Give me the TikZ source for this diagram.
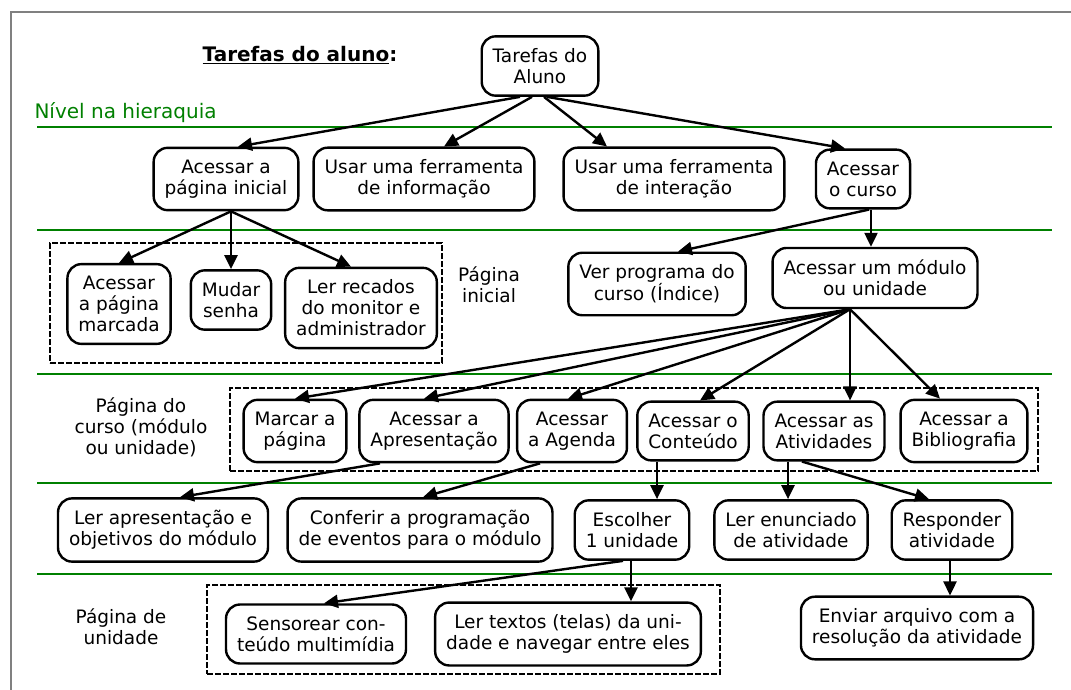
\documentclass[tikz,border=0pt]{standalone}
\usepackage{fontspec}
\setmainfont{DejaVu Sans}
\usepackage{tikz}
\usetikzlibrary{arrows.meta,fit}
\definecolor{verde}{RGB}{0,128,0}
\definecolor{cinza}{RGB}{128,128,128}

\begin{document}
\begin{tikzpicture}[x=1pt,y=-1pt,
  tarefa/.style={draw, line width=2.4pt, rounded corners=14pt, align=center,
    inner xsep=11pt, inner ysep=12pt, font=\fontsize{18.5}{21}\selectfont},
  rotulo/.style={align=center, font=\fontsize{18.5}{21}\selectfont},
  grupo/.style={draw, line width=1.6pt, dash pattern=on 6pt off 2pt, inner sep=0pt},
  nivel/.style={verde, line width=2pt},
  seta/.style={line width=2.4pt, -{Triangle[length=14pt,width=13pt]}}]
\useasboundingbox (0,0) rectangle (1071,690);
\draw[cinza, line width=1.5pt] (11,690) -- (11,12) -- (1071,12);

\node[font=\fontsize{20}{24}\selectfont\bfseries] (t) at (300,55) {\underline{Tarefas do aluno}:};
\node[verde, anchor=west, font=\fontsize{20}{24}\selectfont] (n) at (31,113) {Nível na hieraquia};
\draw[nivel] (37,127) -- (1052,127);
\draw[nivel] (37,230) -- (1052,230);
\draw[nivel] (37,374) -- (1052,374);
\draw[nivel] (37,483) -- (1052,483);
\draw[nivel] (37,574) -- (1052,574);

\node[grupo, fit={(50,243) (442,363)}] (g1) {};
\node[grupo, fit={(230,388) (1038,471)}] (g2) {};
\node[grupo, fit={(207,585) (720,674)}] (g3) {};

\node[tarefa] (0) at (540,66) {Tarefas do\\Aluno};

\node[tarefa] (1) at (226,179) {Acessar a\\página inicial};
\node[tarefa] (2) at (424,179) {Usar uma ferramenta\\de informação};
\node[tarefa] (3) at (674,179) {Usar uma ferramenta\\de interação};
\node[tarefa] (4) at (863,179) {Acessar\\o curso};

\node[tarefa] (5) at (119,304) {Acessar\\a página\\marcada};
\node[tarefa] (6) at (231,300) {Mudar\\senha};
\node[tarefa] (7) at (361,308) {Ler recados\\do monitor e\\administrador};
\node[rotulo] (p1) at (489,285) {Página\\inicial};
\node[tarefa] (8) at (657,284) {Ver programa do\\curso (Índice)};
\node[tarefa] (9) at (875,278) {Acessar um módulo\\ou unidade};

\node[rotulo] (p2) at (141,427) {Página do\\curso (módulo\\ou unidade)};
\node[tarefa] (10) at (295,431) {Marcar a\\página};
\node[tarefa] (11) at (434,431) {Acessar a\\Apresentação};
\node[tarefa] (12) at (572,431) {Acessar\\a Agenda};
\node[tarefa] (13) at (693,431) {Acessar o\\Conteúdo};
\node[tarefa] (14) at (824,431) {Acessar as\\Atividades};
\node[tarefa] (15) at (964,431) {Acessar a\\Bibliografia};

\node[tarefa] (16) at (163,530) {Ler apresentação e\\objetivos do módulo};
\node[tarefa] (17) at (420,530) {Conferir a programação\\de eventos para o módulo};
\node[tarefa] (18) at (632,530) {Escolher\\1 unidade};
\node[tarefa] (19) at (791,530) {Ler enunciado\\de atividade};
\node[tarefa] (20) at (952,530) {Responder\\atividade};

\node[rotulo] (p3) at (121,627) {Página de\\unidade};
\node[tarefa] (21) at (316,634) {Sensorear con-\\teúdo multimídia};
\node[tarefa] (22) at (568,634) {Ler textos (telas) da uni-\\dade e navegar entre eles};
\node[tarefa] (23) at (917,628) {Enviar arquivo com a\\resolução da atividade};

\draw[seta] ([xshift=-20pt]0.south) -- ([xshift=12pt]1.north);
\draw[seta] ([xshift=-8pt]0.south) -- ([xshift=20pt]2.north);
\draw[seta] ([xshift=4pt]0.south) -- ([xshift=-67pt]3.north);
\draw[seta] ([xshift=7pt]0.south) -- ([xshift=-18pt]4.north);

\draw[seta] ([xshift=5pt]1.south) -- (5.north);
\draw[seta] ([xshift=5pt]1.south) -- ([xshift=5pt]1.south |- 6.north);
\draw[seta] ([xshift=5pt]1.south) -- ([xshift=-10pt]7.north);

\draw[seta] ([xshift=6pt]4.south) -- ([xshift=21pt]8.north);
\draw[seta] ([xshift=8pt]4.south) -- ([xshift=8pt]4.south |- 9.north);

\draw[seta] ([xshift=-25pt]9.south) -- (10.north);
\draw[seta] ([xshift=-25pt]9.south) -- ([xshift=-10pt]11.north);
\draw[seta] ([xshift=-25pt]9.south) -- ([xshift=-4pt]12.north);
\draw[seta] ([xshift=-25pt]9.south) -- ([xshift=7pt]13.north);
\draw[seta] ([xshift=-25pt]9.south) -- ([xshift=-25pt]9.south |- 14.north);
\draw[seta] ([xshift=-25pt]9.south) -- ([xshift=-24pt]15.north);

\draw[seta] ([xshift=-54pt]11.south) -- ([xshift=17pt]16.north);
\draw[seta] ([xshift=-32pt]12.south) -- ([xshift=3pt]17.north);
\draw[seta] ([xshift=-36pt]13.south) -- ([xshift=-36pt]13.south |- 18.north);
\draw[seta] ([xshift=-36pt]14.south) -- ([xshift=-36pt]14.south |- 19.north);
\draw[seta] ([xshift=-22pt]14.south) -- ([xshift=-23pt]20.north);

\draw[seta] ([xshift=-9pt]18.south) -- ([xshift=8pt]21.north);
\draw[seta] ([xshift=-1pt]18.south) -- ([xshift=-1pt]18.south |- 22.north);
\draw[seta] ([xshift=-2pt]20.south) -- ([xshift=-2pt]20.south |- 23.north);
\end{tikzpicture}
\end{document}
